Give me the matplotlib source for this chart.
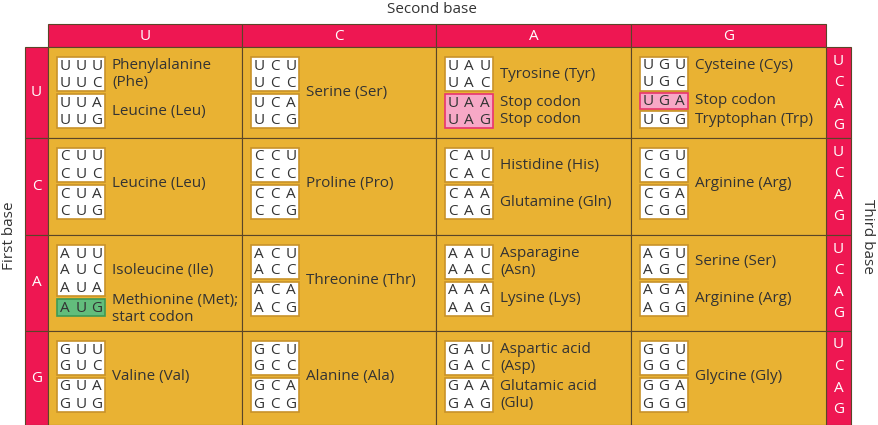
import matplotlib
matplotlib.use("Agg")
import matplotlib.pyplot as plt
from matplotlib.patches import Rectangle

bases = ["U", "C", "A", "G"]
# cell specs: (groups [(indices, kind)], labels [(text, codon position)])
cells = {
 ("U","U"): ([([0,1],"w"),([2,3],"w")], [("Phenylalanine\n(Phe)",0.5),("Leucine (Leu)",2.5)]),
 ("U","C"): ([([0,1],"w"),([2,3],"w")], [("Serine (Ser)",1.5)]),
 ("U","A"): ([([0,1],"w"),([2,3],"p")], [("Tyrosine (Tyr)",0.5),("Stop codon",2),("Stop codon",3)]),
 ("U","G"): ([([0,1],"w"),([2],"p"),([3],"w")], [("Cysteine (Cys)",0),("Stop codon",2),("Tryptophan (Trp)",3)]),
 ("C","U"): ([([0,1],"w"),([2,3],"w")], [("Leucine (Leu)",1.5)]),
 ("C","C"): ([([0,1],"w"),([2,3],"w")], [("Proline (Pro)",1.5)]),
 ("C","A"): ([([0,1],"w"),([2,3],"w")], [("Histidine (His)",0.5),("Glutamine (Gln)",2.5)]),
 ("C","G"): ([([0,1],"w"),([2,3],"w")], [("Arginine (Arg)",1.5)]),
 ("A","U"): ([([0,1,2],"w"),([3],"g")], [("Isoleucine (Ile)",1),("Methionine (Met);\nstart codon",3.1)]),
 ("A","C"): ([([0,1],"w"),([2,3],"w")], [("Threonine (Thr)",1.5)]),
 ("A","A"): ([([0,1],"w"),([2,3],"w")], [("Asparagine\n(Asn)",0.5),("Lysine (Lys)",2.5)]),
 ("A","G"): ([([0,1],"w"),([2,3],"w")], [("Serine (Ser)",0.5),("Arginine (Arg)",2.5)]),
 ("G","U"): ([([0,1],"w"),([2,3],"w")], [("Valine (Val)",1.5)]),
 ("G","C"): ([([0,1],"w"),([2,3],"w")], [("Alanine (Ala)",1.5)]),
 ("G","A"): ([([0,1],"w"),([2,3],"w")], [("Aspartic acid\n(Asp)",0.5),("Glutamic acid\n(Glu)",2.5)]),
 ("G","G"): ([([0,1],"w"),([2,3],"w")], [("Glycine (Gly)",1.5)]),
}

PINK = "#EE1752"; GOLD = "#E9B233"; LINE = "#5a4528"; TXT = "#333333"
fills = {"w": ("white", "#c8922a"), "p": ("#f7a8c6", "#e8356f"), "g": ("#62bd7c", "#3f9a55")}
FONT = "Open Sans"; FS = 11

fig = plt.figure(figsize=(8.79, 4.25), dpi=100)
ax = fig.add_axes([0, 0, 1, 1])
ax.set_xlim(0, 879); ax.set_ylim(425, 0); ax.axis("off")

cx = [48, 242, 436, 631, 826]
ry = [47, 138, 235, 331, 425]

ax.text(432, 9, "Second base", ha="center", va="center", fontsize=FS, color=TXT, family=FONT)
ax.text(10, 236, "First base", ha="center", va="center", rotation=90, fontsize=FS, color=TXT, family=FONT)
ax.text(868, 236, "Third base", ha="center", va="center", rotation=270, fontsize=FS, color=TXT, family=FONT)

for j, b in enumerate(bases):
    ax.add_patch(Rectangle((cx[j], 24), cx[j+1]-cx[j], 23, fc=PINK, ec=LINE, lw=0.8))
    ax.text((cx[j]+cx[j+1])/2, 36, b, ha="center", va="center", color="white", fontsize=FS, family=FONT)
for i, b in enumerate(bases):
    ax.add_patch(Rectangle((25, ry[i]), 23, ry[i+1]-ry[i], fc=PINK, ec=LINE, lw=0.8))
    ax.text(36.5, (ry[i]+ry[i+1])/2, b, ha="center", va="center", color="white", fontsize=FS, family=FONT)
    ax.add_patch(Rectangle((826, ry[i]), 25, ry[i+1]-ry[i], fc=PINK, ec=LINE, lw=0.8))
    for k, t in enumerate(bases):
        ax.text(838.5, ry[i]+14+k*21.5, t, ha="center", va="center", color="white", fontsize=FS, family=FONT)

for i, first in enumerate(bases):
    for j, second in enumerate(bases):
        x0, y0 = cx[j], ry[i]
        ax.add_patch(Rectangle((x0, y0), cx[j+1]-x0, ry[i+1]-y0, fc=GOLD, ec=LINE, lw=0.8))
        groups, labels = cells[(first, second)]
        gap = 3 if len(groups) == 2 else 2
        lh = (71 - gap*(len(groups)-1)) / 4
        ypos = {}
        y = y0 + 10
        for idx, kind in groups:
            top = y
            for k in idx:
                ypos[k] = y + lh/2
                y += lh
            fc, ec = fills[kind]
            ax.add_patch(Rectangle((x0+9, top), 48, y-top, fc=fc, ec=ec, lw=1.2))
            y += gap
        for k, third in enumerate(bases):
            for m, letter in enumerate([first, second, third]):
                ax.text(x0+17+m*16, ypos[k]+0.5, letter, ha="center", va="center",
                        fontsize=FS, color=TXT, family=FONT)
        for text, pos in labels:
            lo = int(pos); hi = min(lo+1, 3); f = pos - lo
            yc = ypos[lo] + (ypos[hi]-ypos[lo])*f if hi != lo else ypos[lo] + (pos-lo)*lh
            ax.text(x0+64, yc, text, ha="left", va="center", fontsize=FS, color=TXT,
                    family=FONT, linespacing=1.15)

fig.savefig("out.png", dpi=100)
